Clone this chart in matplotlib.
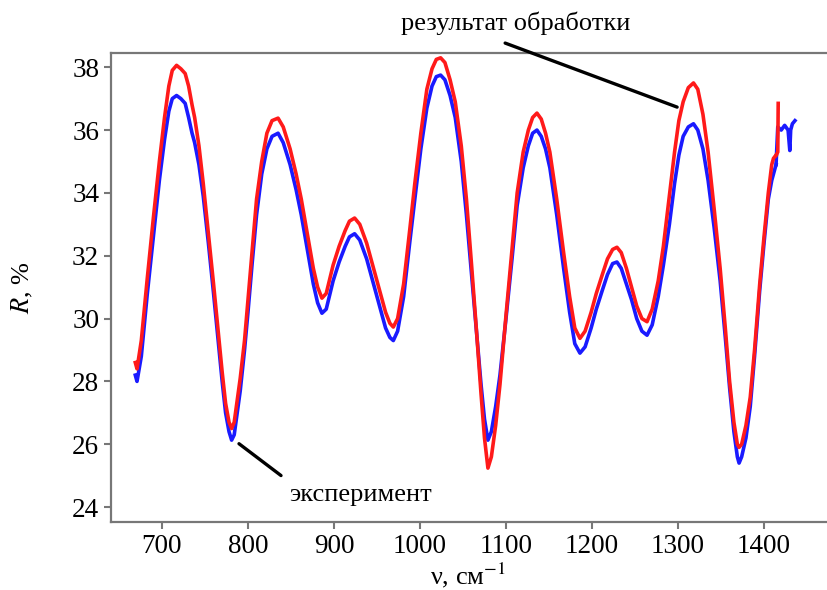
import numpy as np
import matplotlib.pyplot as plt

plt.rcParams['font.family'] = ['Liberation Serif', 'DejaVu Serif']
plt.rcParams['mathtext.fontset'] = 'stix'

# волновое число, см-1 (общая сетка точек для обеих кривых)
nu = [669, 671, 676, 683, 690, 697, 703, 708, 712, 717, 722, 727, 731, 735, 738,
      743, 748, 754, 760, 765, 770, 774, 778, 781, 784, 787, 791, 796, 800, 805,
      810, 816, 822, 828, 835, 841, 849, 856, 862, 869, 876, 881, 886, 891, 899,
      906, 913, 918, 924, 930, 938, 946, 953, 960, 965, 969, 974, 981, 988, 994,
      1001, 1008, 1014, 1019, 1024, 1029, 1035, 1041, 1048, 1054, 1060, 1066,
      1071, 1075, 1079, 1083, 1088, 1093, 1100, 1107, 1113, 1120, 1126, 1131,
      1136, 1141, 1146, 1151, 1159, 1167, 1174, 1180, 1186, 1192, 1199, 1205,
      1212, 1218, 1224, 1229, 1234, 1240, 1246, 1252, 1258, 1264, 1270, 1277,
      1283, 1290, 1296, 1301, 1306, 1312, 1318, 1323, 1329, 1335, 1342, 1349,
      1355, 1360, 1365, 1369, 1371, 1374, 1379, 1384, 1389, 1395, 1400, 1405,
      1409, 1411, 1414]

# эксперимент (синяя кривая)
r_exp = [28.2, 28.0, 28.8, 30.8, 32.6, 34.4, 35.7, 36.6, 37.0, 37.1, 37.0, 36.85,
         36.4, 35.9, 35.6, 34.9, 33.9, 32.4, 30.8, 29.4, 28.0, 27.0, 26.4, 26.13,
         26.3, 26.9, 27.7, 29.0, 30.2, 31.8, 33.3, 34.6, 35.4, 35.8, 35.9, 35.6,
         34.9, 34.1, 33.3, 32.2, 31.1, 30.5, 30.17, 30.3, 31.2, 31.8, 32.3, 32.6,
         32.7, 32.5, 31.9, 31.1, 30.4, 29.7, 29.4, 29.3, 29.6, 30.7, 32.4, 33.8,
         35.4, 36.7, 37.4, 37.7, 37.75, 37.6, 37.1, 36.4, 35.0, 33.3, 31.4, 29.5,
         27.9, 26.8, 26.13, 26.4, 27.2, 28.2, 30.0, 31.9, 33.6, 34.8, 35.5, 35.9,
         36.0, 35.8, 35.4, 34.8, 33.3, 31.6, 30.2, 29.2, 28.9, 29.1, 29.7, 30.3,
         30.9, 31.4, 31.75, 31.8, 31.6, 31.1, 30.6, 30.0, 29.6, 29.47, 29.8, 30.7,
         31.7, 33.0, 34.3, 35.2, 35.8, 36.1, 36.2, 36.0, 35.4, 34.4, 32.9, 31.2,
         29.4, 27.8, 26.4, 25.6, 25.4, 25.6, 26.2, 27.2, 28.8, 30.9, 32.4, 33.8,
         34.4, 34.6, 34.9]
# шумный хвост эксперимента
nu_tail = [1414, 1416, 1420, 1424, 1428, 1430, 1431, 1433, 1436]
r_tail = [34.9, 36.1, 36.0, 36.15, 36.0, 35.35, 36.0, 36.2, 36.3]

# результат обработки (красная кривая)
r_fit = [28.6, 28.4, 29.3, 31.3, 33.2, 35.0, 36.4, 37.4, 37.9, 38.06, 37.95, 37.8,
         37.4, 36.8, 36.4, 35.5, 34.3, 32.7, 31.1, 29.7, 28.3, 27.3, 26.7, 26.5,
         26.7, 27.3, 28.1, 29.3, 30.6, 32.2, 33.8, 35.0, 35.9, 36.3, 36.38, 36.1,
         35.4, 34.6, 33.8, 32.7, 31.6, 31.0, 30.65, 30.8, 31.7, 32.3, 32.8, 33.1,
         33.2, 33.0, 32.4, 31.6, 30.9, 30.2, 29.85, 29.73, 30.0, 31.1, 32.8, 34.3,
         35.9, 37.3, 37.95, 38.25, 38.3, 38.15, 37.6, 36.9, 35.5, 33.8, 31.7, 29.5,
         27.6, 26.2, 25.24, 25.6, 26.6, 27.9, 30.1, 32.2, 34.0, 35.3, 36.0, 36.4,
         36.54, 36.35, 35.9, 35.3, 33.8, 32.1, 30.7, 29.7, 29.37, 29.6, 30.2, 30.8,
         31.4, 31.9, 32.2, 32.27, 32.1, 31.6, 31.0, 30.4, 30.0, 29.9, 30.3, 31.2,
         32.3, 33.9, 35.3, 36.3, 36.9, 37.35, 37.5, 37.3, 36.5, 35.3, 33.5, 31.6,
         29.7, 28.0, 26.7, 26.0, 25.9, 26.0, 26.6, 27.5, 29.0, 31.1, 32.6, 34.0,
         34.9, 35.1, 35.2]
# всплеск на конце обработанной кривой
nu_spike = [1414, 1416, 1416.5]
r_spike = [35.2, 35.3, 36.85]

x_ticks = [700, 800, 900, 1000, 1100, 1200, 1300, 1400]
y_ticks = [24, 26, 28, 30, 32, 34, 36, 38]

fig = plt.figure(figsize=(8.28, 5.9), dpi=100)
ax = fig.add_axes([0.134, 0.115, 0.866, 0.795])

blue = '#1a1aff'
red = '#ff1a1a'
ax.plot(nu, r_exp, color=blue, lw=2.6, solid_joinstyle='round')
ax.plot(nu_tail, r_tail, color=blue, lw=2.6, solid_joinstyle='round')
ax.plot(nu, r_fit, color=red, lw=2.6, solid_joinstyle='round')
ax.plot(nu_spike, r_spike, color=red, lw=2.6, solid_joinstyle='round')

ax.set_xlim(640.7, 1474.4)
ax.set_ylim(23.52, 38.45)
ax.set_xticks(x_ticks)
ax.set_yticks(y_ticks)
ax.tick_params(labelsize=19.5, colors='#777777', labelcolor='black',
               length=5, width=1.5, direction='out')

for side in ['left', 'bottom', 'top']:
    ax.spines[side].set_color('#777777')
    ax.spines[side].set_linewidth(1.6)
ax.spines['right'].set_visible(False)

# подписи кривых
ax.annotate('', xy=(1302, 36.7), xytext=(1096, 38.8),
            arrowprops=dict(arrowstyle='-', lw=2.4, color='black'),
            annotation_clip=False)
ax.text(1111, 39.4, 'результат обработки', fontsize=19, ha='center', va='center',
        clip_on=False)
ax.annotate('', xy=(787, 26.07), xytext=(841, 24.95),
            arrowprops=dict(arrowstyle='-', lw=2.4, color='black'),
            annotation_clip=False)
ax.text(931, 24.38, 'эксперимент', fontsize=19, ha='center', va='center')

fig.text(0.027, 0.512, '$R$, %', fontsize=19, rotation=90, ha='center', va='center')
fig.text(0.565, 0.024, 'ν, см$^{-1}$', fontsize=19, ha='center', va='center')

fig.savefig('out.png', dpi=100)
